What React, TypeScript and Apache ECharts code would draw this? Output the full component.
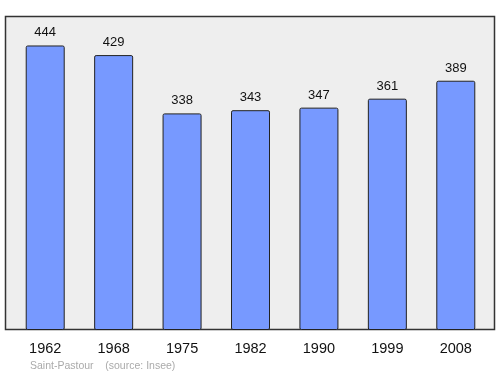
import React, { useEffect, useRef } from "react";
import * as echarts from "echarts";

const categories = ["1962", "1968", "1975", "1982", "1990", "1999", "2008"];
const population = [444, 429, 338, 343, 347, 361, 389];
const sourceText = "Saint-Pastour    (source: Insee)";

export default function App() {
  const ref = useRef<HTMLDivElement>(null);
  useEffect(() => {
    if (!ref.current) return;
    const chart = echarts.init(ref.current, null, { renderer: "svg" });
    chart.setOption({
      animation: false,
      graphic: [
        {
          type: "rect",
          shape: { x: 5.5, y: 16.5, width: 489, height: 313 },
          style: { fill: "#eeeeee", stroke: "#333333", lineWidth: 1.5 },
          z: -10,
        },
        {
          type: "text",
          left: 30,
          top: 359,
          style: { text: sourceText, fill: "#aaaaaa", fontSize: 10.5, fontFamily: "Liberation Sans, Arial, sans-serif" },
        },
      ],
      grid: { left: 11, width: 479, top: 16, bottom: 44 },
      xAxis: {
        type: "category",
        data: categories,
        axisLine: { show: false },
        axisTick: { show: false },
        axisLabel: { color: "#111", fontSize: 14.5, margin: 10, fontFamily: "Liberation Sans, Arial, sans-serif" },
      },
      yAxis: {
        type: "value",
        min: 0,
        max: 490,
        show: false,
        splitLine: { show: false },
      },
      series: [
        {
          type: "bar",
          data: population,
          barWidth: 39,
          itemStyle: { color: "#7799ff", borderColor: "#222222", borderWidth: 1, borderRadius: 1.5 },
          label: {
            show: true,
            position: "top",
            distance: 7,
            color: "#111",
            fontSize: 13,
            fontFamily: "Liberation Sans, Arial, sans-serif",
          },
        },
      ],
    });
    return () => chart.dispose();
  }, []);
  return <div ref={ref} style={{ width: 500, height: 374, position: "fixed", left: 0, top: 0 }} />;
}
